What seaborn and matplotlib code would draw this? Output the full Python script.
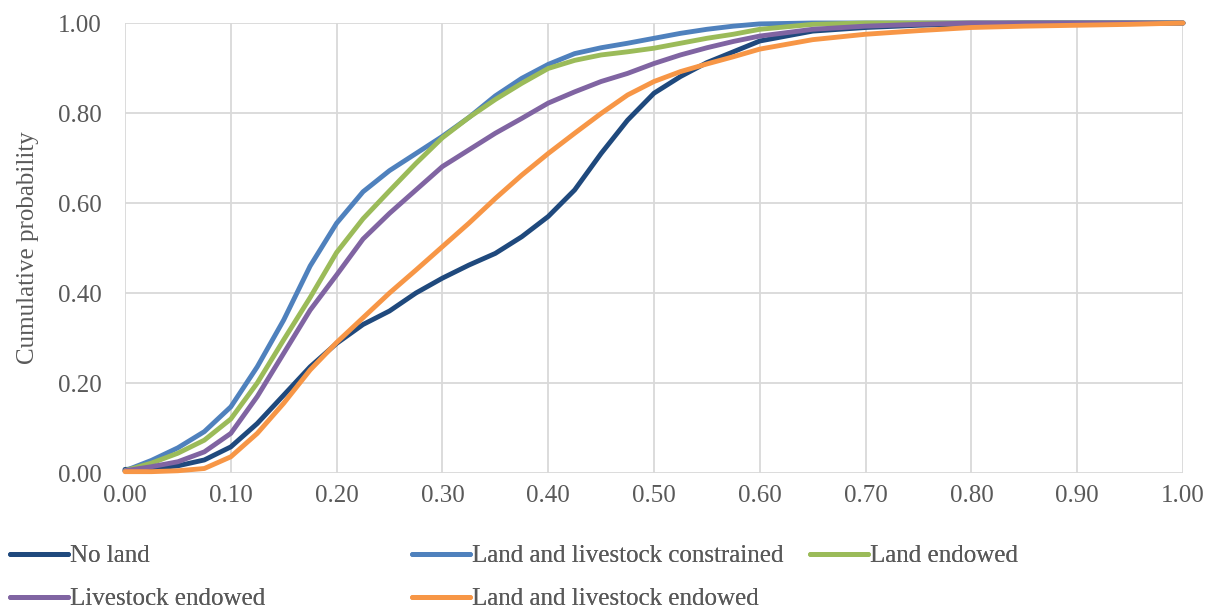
import pandas as pd
import matplotlib
matplotlib.use("Agg")
import matplotlib.pyplot as plt
import seaborn as sns

# cumulative probability
x_vals = [0.000, 0.025, 0.050, 0.075, 0.100, 0.125, 0.150, 0.175, 0.200, 0.225,
          0.250, 0.275, 0.300, 0.325, 0.350, 0.375, 0.400, 0.425, 0.450, 0.475,
          0.500, 0.525, 0.550, 0.575, 0.600, 0.650, 0.700, 0.750, 0.800, 0.850,
          0.900, 0.950, 1.000]

no_land = [0.008, 0.010, 0.016, 0.029, 0.058, 0.110, 0.173, 0.236, 0.288, 0.330,
           0.360, 0.400, 0.433, 0.462, 0.488, 0.525, 0.570, 0.629, 0.710, 0.784,
           0.844, 0.881, 0.912, 0.936, 0.960, 0.982, 0.990, 0.995, 0.998, 1.000,
           1.000, 1.000, 1.000]

constrained = [0.005, 0.028, 0.056, 0.092, 0.147, 0.236, 0.340, 0.460, 0.555, 0.625,
               0.672, 0.710, 0.748, 0.790, 0.838, 0.877, 0.908, 0.932, 0.945, 0.955,
               0.966, 0.977, 0.986, 0.993, 0.998, 1.000, 1.000, 1.000, 1.000, 1.000,
               1.000, 1.000, 1.000]

land_endowed = [0.005, 0.022, 0.044, 0.073, 0.120, 0.200, 0.296, 0.390, 0.490, 0.565,
                0.627, 0.688, 0.745, 0.790, 0.830, 0.866, 0.899, 0.917, 0.929, 0.936,
                0.944, 0.955, 0.966, 0.975, 0.986, 0.997, 1.000, 1.000, 1.000, 1.000,
                1.000, 1.000, 1.000]

livestock_endowed = [0.005, 0.014, 0.025, 0.047, 0.088, 0.170, 0.266, 0.362, 0.440, 0.520,
                     0.577, 0.629, 0.681, 0.718, 0.755, 0.788, 0.822, 0.847, 0.870, 0.888,
                     0.910, 0.929, 0.945, 0.959, 0.971, 0.986, 0.993, 0.997, 1.000, 1.000,
                     1.000, 1.000, 1.000]

both_endowed = [0.003, 0.003, 0.005, 0.010, 0.036, 0.088, 0.155, 0.229, 0.290, 0.345,
                0.400, 0.451, 0.503, 0.555, 0.610, 0.662, 0.710, 0.755, 0.799, 0.840,
                0.870, 0.892, 0.909, 0.925, 0.942, 0.963, 0.975, 0.983, 0.990, 0.993,
                0.995, 0.997, 1.000]

groups = ["No land", "Land and livestock constrained", "Land endowed",
          "Livestock endowed", "Land and livestock endowed"]
colors = ["#1F497D", "#4F81BD", "#9BBB59", "#8064A2", "#F79646"]
x_ticks = [i / 10 for i in range(11)]
y_ticks = [0.0, 0.2, 0.4, 0.6, 0.8, 1.0]

series = [no_land, constrained, land_endowed, livestock_endowed, both_endowed]
df = pd.concat([pd.DataFrame({"x": x_vals, "p": s, "group": g}) for g, s in zip(groups, series)])

sns.set_style("white")
plt.rcParams["font.family"] = ["Liberation Serif", "DejaVu Serif"]
text_col = "#595959"
fs = 18

fig = plt.figure(figsize=(12.08, 6.11), dpi=100)
ax = fig.add_axes([125 / 1208, 1 - 473 / 611, 1058 / 1208, 450 / 611])

sns.lineplot(data=df, x="x", y="p", hue="group", hue_order=groups, palette=colors,
             sort=False, estimator=None, linewidth=3.5, legend=False, ax=ax)
for ln in ax.get_lines():
    ln.set_solid_capstyle("round")
    ln.set_solid_joinstyle("round")
    ln.set_clip_on(False)

ax.set_xlim(0, 1)
ax.set_ylim(0, 1)
ax.set_xticks(x_ticks)
ax.set_yticks(y_ticks)
ax.set_xticklabels([f"{v:.2f}" for v in x_ticks])
ax.set_yticklabels([f"{v:.2f}" for v in y_ticks])
ax.tick_params(axis="both", length=0, labelsize=fs, colors=text_col)
ax.tick_params(axis="y", pad=17)
ax.tick_params(axis="x", pad=9)
ax.grid(True, color="#D9D9D9", linewidth=1.3)
ax.set_axisbelow(True)
for sp in ax.spines.values():
    sp.set_visible(False)
ax.set_xlabel("")
ax.set_ylabel("Cumulative probability", fontsize=fs, color=text_col)
ax.yaxis.set_label_coords(-0.081, 0.5)

# legend laid out in three equal columns like the Excel original
lines = ax.get_lines()
cols = [([0, 3], 10), ([1, 4], 412), ([2], 810)]
for idx, xpix in cols:
    yc = (556 + 599) / 2 if len(idx) == 2 else 556
    leg = fig.legend([lines[i] for i in idx], [groups[i] for i in idx],
                     loc="center left", bbox_to_anchor=(xpix / 1208, 1 - yc / 611),
                     frameon=False, fontsize=fs, handlelength=2.3, handletextpad=0.1,
                     borderpad=0, borderaxespad=0, labelspacing=0.82, labelcolor=text_col)
    fig.add_artist(leg)

fig.savefig("out.png", dpi=100)
